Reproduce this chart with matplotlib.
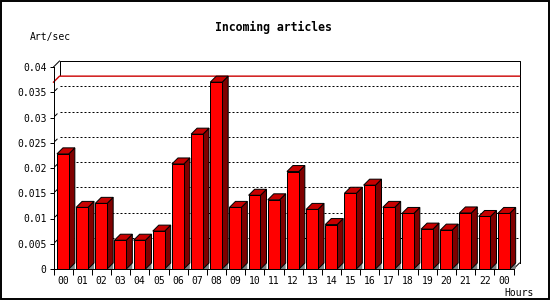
import matplotlib
matplotlib.use('Agg')
import matplotlib.pyplot as plt
from matplotlib.patches import Rectangle, Polygon

# DATA ==========================================================================================
hours = ['00', '01', '02', '03', '04', '05', '06', '07', '08', '09', '10', '11',
         '12', '13', '14', '15', '16', '17', '18', '19', '20', '21', '22', '00']
art_per_sec = [0.0228, 0.0122, 0.0130, 0.0057, 0.0057, 0.0075, 0.0208, 0.0267,
               0.0370, 0.0122, 0.0146, 0.0137, 0.0193, 0.0118, 0.0088, 0.0150,
               0.0166, 0.0122, 0.0110, 0.0079, 0.0077, 0.0111, 0.0104, 0.0110]
y_ticks = [0, 0.005, 0.01, 0.015, 0.02, 0.025, 0.03, 0.035, 0.04]
y_tick_labels = ['0', '0.005', '0.01', '0.015', '0.02', '0.025', '0.03', '0.035', '0.04']
# ===============================================================================================

FONT = 'DejaVu Sans Mono'
LW = 0.72  # one pixel at 100 dpi

fig = plt.figure(figsize=(5.5, 3), dpi=100)
fig.patch.set_facecolor('white')
ax = fig.add_axes([53.5 / 550, 31 / 300, 460 / 550, 202 / 300])

n = len(art_per_sec)
ymax = 0.04
ax.set_xlim(0, n)
ax.set_ylim(0, ymax)
ax.patch.set_visible(False)

# depth of the fake 3d effect, 6 px right and 6 px up
dx = 6 / (460 / n)
dy = 6 / 202 * ymax

# back frame of the plot area
ax.plot([dx, dx, n + dx, n + dx], [0.0372 + dy, ymax + dy, ymax + dy, dy],
        color='black', lw=LW, clip_on=False, zorder=1)
ax.plot([0, dx], [ymax, ymax + dy], color='black', lw=LW, clip_on=False, zorder=1)
ax.plot([n, n + dx], [0, dy], color='black', lw=LW, clip_on=False, zorder=1)

# dotted grid on the back plane
for v in y_ticks[1:-1]:
    ax.plot([dx, n + dx], [v + dy, v + dy], color='black', lw=LW,
            linestyle=(0, (2, 2)), clip_on=False, zorder=1)
    ax.plot([0.3 * dx, 0.6 * dx], [v + 0.3 * dy, v + 0.6 * dy], color='black',
            lw=LW, clip_on=False, zorder=1)

# max value line
vmax = max(art_per_sec)
ax.plot([0, dx, n + dx], [vmax, vmax + dy, vmax + dy], color='#cc0000',
        lw=1.0, clip_on=False, zorder=1.5)

# 3d bars
w = 0.62
for i, v in enumerate(art_per_sec):
    x0 = i + 0.18
    x1 = x0 + w
    ax.add_patch(Polygon([(x1, 0), (x1 + dx, dy), (x1 + dx, 0)], closed=True,
                         facecolor='#808080', edgecolor='none', zorder=2, clip_on=False))
    ax.add_patch(Polygon([(x1, 0), (x1 + dx, dy), (x1 + dx, v + dy), (x1, v)], closed=True,
                         facecolor='#800000', edgecolor='black', lw=LW, zorder=3, clip_on=False))
    ax.add_patch(Polygon([(x0, v), (x0 + dx, v + dy), (x1 + dx, v + dy), (x1, v)], closed=True,
                         facecolor='#c80000', edgecolor='black', lw=LW, zorder=3, clip_on=False))
    ax.add_patch(Rectangle((x0, 0), w, v, facecolor='#ff0000', edgecolor='black',
                           lw=LW, zorder=4, clip_on=False))

# axes
for s in ['top', 'right']:
    ax.spines[s].set_visible(False)
for s in ['left', 'bottom']:
    ax.spines[s].set_linewidth(LW)
    ax.spines[s].set_zorder(5)

ax.set_yticks(y_ticks)
ax.set_yticklabels(y_tick_labels, fontfamily=FONT, fontsize=7)
ax.tick_params(axis='y', direction='out', length=3, width=LW, pad=2)

ax.set_xticks([i + 0.5 for i in range(n)])
ax.set_xticklabels(hours, fontfamily=FONT, fontsize=7)
ax.set_xticks(range(n + 1), minor=True)
ax.tick_params(axis='x', which='major', length=0, pad=5)
ax.tick_params(axis='x', which='minor', direction='out', length=4, width=LW)

fig.text(273 / 550, 1 - 27 / 300, 'Incoming articles', ha='center', va='center',
         fontfamily=FONT, fontsize=8.3, fontweight='bold')
fig.text(30 / 550, 1 - 37 / 300, 'Art/sec', ha='left', va='center',
         fontfamily=FONT, fontsize=7)
fig.text(534 / 550, 1 - 293 / 300, 'Hours', ha='right', va='center',
         fontfamily=FONT, fontsize=7)

# image border
fig.patches.append(Rectangle((0.5 / 550, 0.8 / 300), 548.3 / 550, 298.7 / 300,
                             transform=fig.transFigure, fill=False,
                             edgecolor='black', lw=1.4))

plt.savefig('out.png', dpi=100)
